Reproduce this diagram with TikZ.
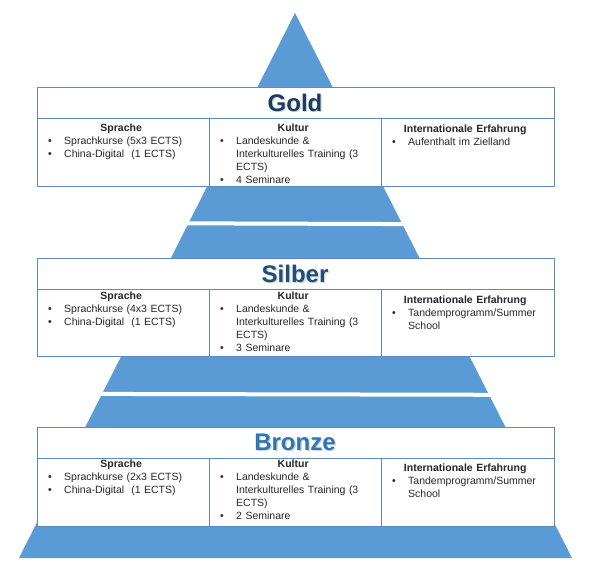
\documentclass[tikz,border=0pt]{standalone}
\usepackage{fontspec}
\setmainfont{Liberation Sans}
\usetikzlibrary{positioning,calc}
\usepackage{xcolor}
\definecolor{pyrblue}{HTML}{5B9BD5}
\definecolor{gridblue}{HTML}{5A8AC0}
\definecolor{goldtxt}{HTML}{1B3A66}
\definecolor{silbertxt}{HTML}{1F4E79}
\definecolor{bronzetxt}{HTML}{2E75B6}
\newcommand{\bitem}[1]{\par\hangindent=27pt\hangafter=1\noindent\hspace*{11pt}\makebox[16pt][l]{\textbullet}\strut #1\par}
\newcommand{\tabhead}[1]{{\centering\bfseries\strut #1\par}}

\begin{document}
\begin{tikzpicture}[x=1pt,y=-1pt,
    cell/.style={anchor=north west,inner sep=0pt,text width=168pt,
      font=\fontsize{10.5}{13}\selectfont,text=black!85,align=left},
    tiername/.style={font=\fontsize{24}{28}\selectfont\bfseries,inner sep=0pt}]
  \useasboundingbox (0,0) rectangle (590,566);

  % Pyramid (background)
  \fill[pyrblue] (295,13) -- (572,558) -- (19,558) -- cycle;
  % white gaps between the bands
  \fill[white] (0,220.7) -- (590,222.7) -- (590,226.7) -- (0,224.7) -- cycle;
  \fill[white] (0,391.7) -- (590,393) -- (590,397) -- (0,395.7) -- cycle;

  % Tiers: name/top/mid/bottom/text line/intl line/colour/courses/seminars/international
  \foreach \tname/\ttop/\tmid/\tbot/\ttxt/\tintl/\tcol/\nsk/\nsem/\intl in {
      Gold/87/118/186/128/129/goldtxt/5/4/{Aufenthalt im Zielland},
      Silber/258/289/356/296/300/silbertxt/4/3/{Tandemprogramm/Summer School},
      Bronze/427/458/526/464/468/bronzetxt/2/2/{Tandemprogramm/Summer School}}{
    % table
    \draw[gridblue,fill=white,line width=0.8pt] (37,\ttop) rectangle (554,\tbot);
    \draw[gridblue,line width=0.8pt] (37,\tmid) -- (554,\tmid)
      (209,\tmid) -- (209,\tbot) (381,\tmid) -- (381,\tbot);
    % tier name (with soft shadow)
    \node[tiername,text=gray!70,opacity=.5] at (296.3,{(\ttop+\tmid)/2+1.3}) {\tname};
    \node[tiername,text=\tcol] (\tname-head) at (295,{(\ttop+\tmid)/2}) {\tname};
    % columns
    \node[cell] (\tname-sprache) at (37,\ttxt-5.4)
      {\tabhead{Sprache}\bitem{Sprachkurse ({\nsk}x3 ECTS)}\bitem{China-Digital~ (1 ECTS)}};
    \node[cell] (\tname-kultur) at (209,\ttxt-5.4)
      {\tabhead{Kultur}\bitem{Landeskunde \&\newline Interkulturelles Training (3\newline ECTS)}\bitem{{\nsem} Seminare}};
    \node[cell] (\tname-intl) at (381,\tintl-5.4)
      {\tabhead{Internationale Erfahrung}\bitem{\intl}};
  }
\end{tikzpicture}
\end{document}
